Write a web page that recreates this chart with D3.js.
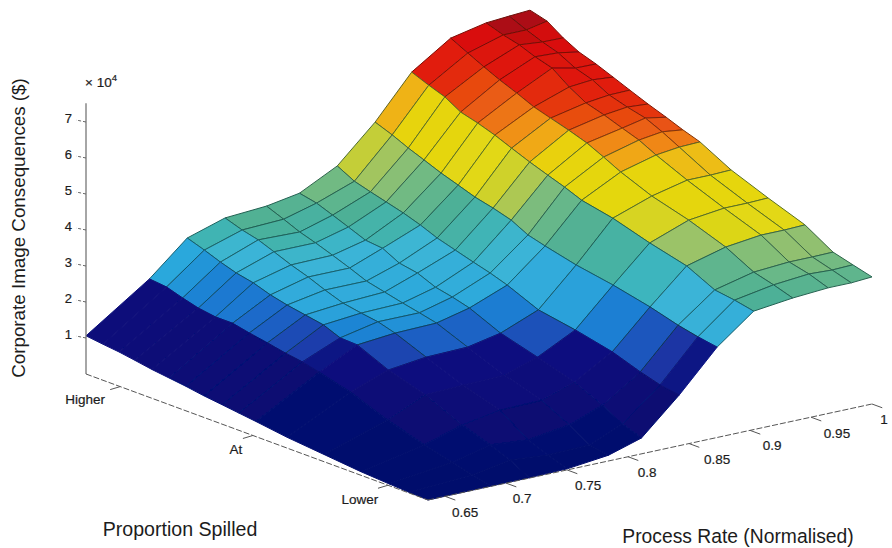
<!DOCTYPE html>
<html>
<head>
<meta charset="utf-8">
<script src="https://cdn.jsdelivr.net/npm/d3@7"></script>
<style>
html,body{margin:0;padding:0;background:#fff;overflow:hidden}
text{font-family:"Liberation Sans",Arial,sans-serif;fill:#1c1c1c}
.tick{stroke:#1c1c1c;stroke-width:0.2}
</style>
</head>
<body>
<svg id="chart" width="892" height="548"></svg>
<script>
// Grid of the surface (process rate, normalised; proportion spilled 0 = back/higher, 1 = front/lower)
const processRates = [0.636,0.688,0.719,0.750,0.784,0.811,0.842,0.873,0.903,0.935,0.964,0.983,1.000];
const proportionLevels = [0,0.050,0.097,0.143,0.193,0.243,0.292,0.345,0.398,0.447,0.497,0.588,0.696,0.804,0.886,0.944,1];

// Corporate image consequences (x 10^4 $), one list per process rate
const costAt0636 = [1.06,1.00,0.95,0.88,0.80,0.74,0.68,0.60,0.54,0.48,0.42,0.30,0.20,0.10,0.05,0.02,0.00];
const costAt0688 = [2.26,2.21,2.07,1.95,1.88,1.88,1.78,1.69,1.59,1.52,1.41,1.18,0.78,0.46,0.27,0.12,0.01];
const costAt0719 = [3.17,3.01,2.84,2.70,2.60,2.44,2.33,2.24,2.15,1.96,1.94,1.56,1.25,0.79,0.52,0.31,0.01];
const costAt0750 = [3.50,3.34,3.23,3.06,2.87,2.71,2.52,2.34,2.25,2.18,2.04,1.69,1.29,0.98,0.43,0.22,0.03];
const costAt0784 = [3.58,3.39,3.20,3.06,2.89,2.71,2.52,2.40,2.28,2.18,2.07,1.72,1.32,1.00,0.60,0.25,0.16];
const costAt0811 = [3.74,3.64,3.47,3.30,3.11,3.06,2.82,2.73,2.52,2.42,2.29,1.91,1.62,1.31,0.95,0.63,0.44];
const costAt0842 = [4.27,4.02,3.89,3.77,3.64,3.48,3.29,3.14,2.99,2.86,2.70,2.33,2.15,1.92,1.65,1.49,1.41];
const costAt0873 = [5.26,5.08,4.88,4.71,4.52,4.36,4.20,4.08,3.93,3.69,3.56,3.35,3.17,2.94,2.72,2.60,2.51];
const costAt0903 = [6.43,6.24,6.08,5.82,5.69,5.53,5.34,5.14,4.96,4.80,4.61,4.43,4.12,3.86,3.48,3.40,3.29];
const costAt0935 = [7.14,6.90,6.68,6.48,6.29,6.08,5.94,5.79,5.62,5.40,5.16,4.81,4.52,4.15,3.74,3.59,3.42];
const costAt0964 = [7.35,7.19,7.08,6.91,6.77,6.42,6.15,6.00,5.82,5.66,5.42,5.04,4.64,4.27,3.81,3.68,3.49];
const costAt0983 = [7.40,7.19,7.02,6.88,6.63,6.48,6.23,6.08,5.96,5.75,5.50,5.04,4.64,4.27,3.81,3.65,3.49];
const costAt1000 = [7.44,7.31,7.01,6.78,6.62,6.43,6.24,6.04,5.86,5.68,5.52,5.06,4.66,4.29,3.82,3.67,3.53];
const costRows = [costAt0636,costAt0688,costAt0719,costAt0750,costAt0784,costAt0811,costAt0842,
                  costAt0873,costAt0903,costAt0935,costAt0964,costAt0983,costAt1000];

// Ticks
const zTicks = [1,2,3,4,5,6,7];
const rateTicks = [0.65,0.7,0.75,0.8,0.85,0.9,0.95,1];
const rateTickLabels = ["0.65","0.7","0.75","0.8","0.85","0.9","0.95","1"];
const proportionTicks = [0.10,0.488,0.883];
const proportionTickLabels = ["Higher","At","Lower"];

// Colour map stops (value, colour)
const colourValues = [0,1.40,1.50,1.70,1.90,2.20,2.80,3.00,3.30,3.60,3.85,4.02,4.18,4.95,5.10,5.40,5.70,6.00,6.30,7.00,7.20,7.45];
const colourStops  = ["#05096c","#0a1280","#1c3aa8","#1a60c4","#1a7cd2","#2ca8dc","#3db6d6","#3fb4b4","#4db096","#6ab888",
                      "#98c26a","#c4ce38","#e2d812","#e8d410","#f0ae16","#f08a12","#ea5a12","#e43010","#e01610","#d81010","#aa0c12","#8c0a10"];

const svg = d3.select("#chart");
const defs = svg.append("defs");
defs.append("filter").attr("id","soft").append("feGaussianBlur").attr("stdDeviation",0.4);

// Oblique projection built from linear scales
const ox = 86, oy = 374;
const rateX = d3.scaleLinear().domain([0.636,1]).range([0,444]);
const rateY = d3.scaleLinear().domain([0.636,1]).range([0,-96]);
const propX = d3.scaleLinear().domain([0,1]).range([0,342]);
const propY = d3.scaleLinear().domain([0,1]).range([0,126]);
const zY    = d3.scaleLinear().domain([0,7]).range([0,-252]);
const project = (rate,prop,z) => [ox+rateX(rate)+propX(prop), oy+rateY(rate)+propY(prop)+zY(z)];
const colour = d3.scaleLinear().domain(colourValues).range(colourStops).clamp(true);
const edgeColour = v => v < 1.45 ? colour(v) : d3.interpolateRgb(colour(v), v > 5.2 ? "#400800" : "#06302a")(0.62);

// Surface faces, painted from the back corner to the front corner
const faces = [];
for (let i = processRates.length-2; i >= 0; i--) {
  for (let j = 0; j < proportionLevels.length-1; j++) {
    const corner = (a,b) => project(processRates[a],proportionLevels[b],costRows[a][b]);
    faces.push({pts:[corner(i,j),corner(i+1,j),corner(i+1,j+1),corner(i,j+1)], value:costRows[i][j+1]});
  }
}
const lineGen = d3.line();
const gSurface = svg.append("g").attr("filter","url(#soft)");

// Axes
const gAxes = svg.append("g").attr("filter","url(#soft)").attr("fill","none");
const seg = (a,b,col,w,dash) => gAxes.append("path").attr("d",lineGen([a,b])).attr("stroke",col).attr("stroke-width",w).attr("stroke-dasharray",dash||null);
seg(project(0.636,0,0),project(0.636,0,7.52),"#777",1.3);
seg(project(0.636,0,0),project(0.636,1,0),"#555",1,"6 2");
seg(project(0.636,1,0),project(1,1,0),"#555",1,"6 2");
zTicks.forEach(z=>{
  const a=project(0.636,0,z), b=[a[0]-10,a[1]-2];
  seg(a,b,"#666",1,"3 2");
  svg.append("text").attr("class","tick").attr("x",a[0]-14).attr("y",a[1]-2).attr("text-anchor","end").attr("dominant-baseline","middle")
     .attr("font-size",13).text(z);
});
const rateLabelDx = [20,16,21,19,28,22,26,12], rateLabelDy = [17,16,17,17,17,16,17,16];
rateTicks.forEach((r,k)=>{
  const a=project(r,1,0), b=project(r,1.03,0);
  seg(a,b,"#555",1);
  svg.append("text").attr("class","tick").attr("x",a[0]+rateLabelDx[k]).attr("y",a[1]+rateLabelDy[k]).attr("text-anchor","middle").attr("dominant-baseline","middle")
     .attr("font-size",13.5).text(rateTickLabels[k]);
});
const propLabelDx = [-35,-17,-28], propLabelDy = [14,15,15];
proportionTicks.forEach((p,k)=>{
  const a=project(0.636,p,0), b=[a[0]-10,a[1]+3];
  seg(a,b,"#555",1);
  svg.append("text").attr("class","tick").attr("x",a[0]+propLabelDx[k]).attr("y",a[1]+propLabelDy[k]).attr("text-anchor","middle").attr("dominant-baseline","middle")
     .attr("font-size",13.5).text(proportionTickLabels[k]);
});

gSurface.selectAll("path").data(faces).join("path")
  .attr("d",d=>lineGen(d.pts)+"Z")
  .attr("fill",d=>colour(d.value))
  .attr("stroke",d=>edgeColour(d.value))
  .attr("stroke-width",1)
  .attr("stroke-linejoin","round");

// Titles
svg.append("text").attr("transform","translate(25,228) rotate(-90)").attr("text-anchor","middle")
   .attr("font-size",18.8).text("Corporate Image Consequences ($)");
svg.append("text").attr("x",180).attr("y",536).attr("text-anchor","middle").attr("font-size",19.6).text("Proportion Spilled");
svg.append("text").attr("x",738).attr("y",543).attr("text-anchor","middle").attr("font-size",19.3).text("Process Rate (Normalised)");
const mult = svg.append("text").attr("class","tick").attr("x",85).attr("y",87).attr("font-size",13.5);
mult.append("tspan").text("\u00d7 10");
mult.append("tspan").attr("font-size",9.5).attr("dy",-6).text("4");
</script>
</body>
</html>
